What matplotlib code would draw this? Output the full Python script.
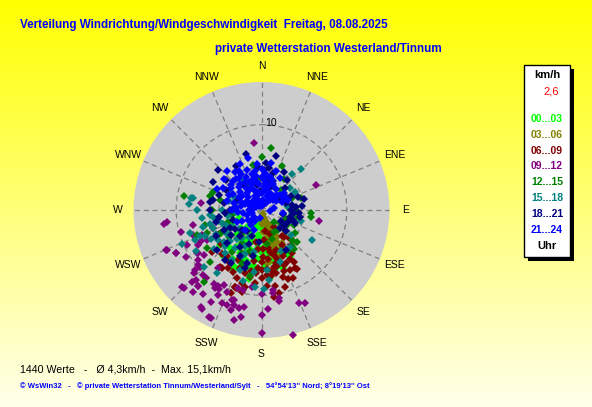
import matplotlib
matplotlib.use('Agg')
import matplotlib.pyplot as plt
from matplotlib.patches import Rectangle
import numpy as np

W, H = 592, 407
plt.rcParams['font.family'] = ['Liberation Sans', 'DejaVu Sans']

TITLE = 'Verteilung Windrichtung/Windgeschwindigkeit  Freitag, 08.08.2025'
SUBTITLE = 'private Wetterstation Westerland/Tinnum'
INFO = '1440 Werte   -   Ø 4,3km/h  -  Max. 15,1km/h'
FOOTER = "© WsWin32   -   © private Wetterstation Tinnum/Westerland/Sylt   -   54°54'13'' Nord; 8°19'13'' Ost"

DIR_LABELS = ['N', 'NNE', 'NE', 'ENE', 'E', 'ESE', 'SE', 'SSE',
              'S', 'SSW', 'SW', 'WSW', 'W', 'WNW', 'NW', 'NNW']
R_MAX = 15
R_RINGS = [5, 10]
CURRENT = '2,6'

HOURS = ['00...03', '03...06', '06...09', '09...12', '12...15', '15...18', '18...21', '21...24']
COLORS = ['#00ff00', '#808000', '#800000', '#800080', '#008000', '#008080', '#000080', '#0000ff']

# (direction in degrees, speed in km/h), one list per 3-hour block
PTS_00 = [(205, 7.8), (149, 6.4), (189, 5.9), (200, 4.6), (203, 2.5), (207, 5.6), (198, 6.2), (173, 4.7),
          (165, 6.9), (195, 3.8), (236, 4.9), (212, 5.1), (190, 5.4), (182, 5.9), (197, 6.1), (173, 8.0),
          (148, 6.3), (205, 7.4), (210, 6.6), (220, 5.8), (185, 3.2), (192, 2.0), (178, 3.5), (170, 5.3),
          (160, 5.6), (215, 4.2), (225, 4.0), (230, 3.2), (240, 5.5), (200, 7.0), (186, 7.2), (176, 6.6),
          (155, 5.0), (210, 3.0), (195, 1.5), (220, 2.6), (245, 3.8), (250, 2.8), (165, 4.0), (180, 2.2),
          (205, 4.0), (215, 6.9), (190, 8.2), (160, 7.2), (230, 6.3), (200, 5.2), (185, 4.4), (206, 7.4),
          (188, 6.6), (150, 6.1), (195, 4.8), (200, 3.4), (210, 4.6), (190, 6.8), (180, 5.0), (175, 4.2),
          (185, 5.6), (195, 7.0), (205, 6.0), (215, 5.3), (220, 7.0), (170, 6.1), (165, 5.2), (160, 4.6),
          (208, 3.8), (200, 2.0), (188, 3.0)]
PTS_03 = [(160, 0.5), (162, 1.0), (158, 1.5), (165, 2.0), (160, 2.5), (163, 3.0), (157, 3.5), (168, 3.8),
          (155, 4.2), (160, 4.6), (150, 5.0), (165, 5.4), (172, 6.1), (174, 6.3), (170, 1.2), (150, 2.2),
          (145, 3.0), (175, 2.6), (155, 1.8), (165, 4.4), (140, 4.0), (150, 3.6), (5, 0.6), (20, 0.8),
          (340, 0.7), (180, 1.6), (170, 3.3), (158, 5.8), (148, 4.6), (162, 2.8), (155, 3.2), (163, 0.8),
          (160, 1.3), (165, 1.7), (158, 2.0), (162, 2.3), (167, 2.8), (160, 3.3), (165, 3.6), (158, 4.0),
          (162, 4.9), (155, 5.2), (168, 4.8)]
PTS_06 = [(150, 7.9), (159, 8.6), (142, 3.9), (140, 4.1), (168, 6.8), (167, 7.6), (175, 6.9), (180, 8.0),
          (183, 6.8), (217, 6.8), (216, 8.2), (198, 9.6), (192, 9.2), (149, 8.0), (193, 9.9), (199, 9.5),
          (205, 8.0), (210, 7.8), (200, 8.5), (160, 5.0), (155, 6.0), (165, 5.5), (170, 4.5), (175, 3.5),
          (150, 4.8), (145, 6.2), (158, 7.0), (162, 8.2), (172, 7.8), (178, 5.5), (185, 4.6), (188, 6.0),
          (190, 7.2), (195, 5.2), (170, 2.5), (160, 3.0), (152, 5.6), (140, 5.4), (135, 4.6), (148, 7.2),
          (155, 7.8), (165, 6.4), (185, 8.6), (176, 8.9), (195, 7.6), (205, 6.5), (212, 7.2), (222, 7.0),
          (230, 6.2), (240, 5.7), (250, 6.0), (145, 2.5), (130, 3.5), (170, 9.1), (163, 9.4), (200, 10.3),
          (155, 8.8), (180, 6.1), (168, 5.0), (190, 3.8), (172, 10.3), (168, 10.0), (230, 7.6), (214, 8.2),
          (199, 9.5), (165, 6.8), (170, 7.2), (175, 7.6), (160, 7.6), (155, 6.8), (150, 6.6), (180, 7.0),
          (185, 7.4), (172, 5.8), (162, 6.0), (178, 4.6), (190, 8.0), (200, 7.2), (195, 8.8)]
PTS_09 = [(354, 7.9), (263, 11.2), (262, 11.5), (247, 12.0), (243, 11.2), (226, 13.0), (212, 13.4), (206, 14.0),
          (191, 12.8), (180, 14.4), (166, 15.1), (180, 12.3), (176, 11.6), (158, 11.7), (155, 12.0), (101, 6.9),
          (65, 7.0), (277, 7.1), (169, 10.5), (169, 10.9), (190, 11.5), (193, 11.8), (196, 11.6), (200, 11.9),
          (197, 11.0), (210, 10.3), (213, 10.3), (219, 10.3), (220, 11.6), (223, 11.2), (227, 10.8), (227, 9.8),
          (236, 9.0), (232, 8.6), (241, 8.5), (247, 7.6), (241, 7.3), (208, 10.5), (207, 9.8), (197, 9.5),
          (193, 9.6), (187, 9.1), (180, 9.8), (172, 9.5), (172, 9.8), (247, 12.1), (243, 11.2), (225, 12.9),
          (236, 9.1), (229, 9.8), (222, 10.2), (220, 11.6), (211, 10.6), (209, 12.3), (211, 13.5), (205, 14.0),
          (207, 11.2), (203, 11.9), (203, 10.4), (197, 12.3), (198, 11.1), (194, 13.3), (217, 8.5), (243, 7.9),
          (232, 9.5), (228, 10.5), (224, 11.8), (220, 12.5), (215, 12.0), (238, 10.5), (245, 9.6), (250, 8.6),
          (255, 9.8), (258, 8.2)]
PTS_12 = [(9, 7.3), (349, 5.4), (25, 5.7), (354, 3.5), (332, 3.2), (73, 4.8), (68, 3.9), (93, 5.8),
          (98, 5.8), (280, 9.2), (290, 6.0), (270, 5.8), (284, 5.0), (132, 5.6), (140, 5.5), (142, 5.7),
          (219, 10.8), (140, 6.0), (145, 5.7), (110, 3.0), (120, 3.4), (125, 2.6), (130, 3.8), (135, 2.0),
          (150, 3.0), (100, 2.6), (105, 3.6), (115, 4.2), (60, 2.8), (45, 3.3), (85, 3.2), (90, 4.0),
          (255, 6.8), (249, 8.1), (247, 7.0), (285, 6.3), (240, 5.5), (230, 5.0), (250, 4.2), (260, 3.5),
          (220, 3.6), (210, 4.5), (200, 6.6), (190, 7.8), (235, 7.8), (225, 8.6), (15, 4.0), (35, 4.5),
          (0, 6.2), (125, 4.8), (135, 5.0), (115, 3.2), (140, 3.0), (160, 3.6), (170, 4.0), (205, 5.5),
          (195, 5.0), (215, 6.0), (100, 4.4)]
PTS_15 = [(44, 6.7), (52, 4.2), (275, 8.5), (280, 8.4), (270, 7.6), (247, 10.1), (247, 7.8), (264, 6.1),
          (254, 7.1), (246, 8.5), (121, 6.9), (96, 3.6), (142, 5.5), (174, 8.2), (187, 7.3), (203, 5.9),
          (280, 8.2), (250, 6.0), (240, 6.8), (230, 7.2), (225, 6.0), (235, 5.0), (245, 4.5), (255, 5.2),
          (260, 4.0), (265, 3.0), (270, 4.6), (285, 4.0), (295, 3.5), (300, 4.5), (220, 4.5), (215, 5.5),
          (210, 6.8), (200, 7.5), (195, 8.6), (185, 9.0), (178, 9.3), (175, 7.0), (190, 5.0), (205, 3.5),
          (230, 3.5), (110, 4.0), (105, 4.8), (80, 3.0), (130, 4.5), (155, 5.3), (160, 6.5), (215, 9.0),
          (225, 9.5), (238, 9.0), (242, 6.0), (252, 8.8), (262, 7.0), (10, 3.0), (330, 4.0), (40, 5.5),
          (62, 4.4), (240, 4.0), (250, 4.8), (235, 6.2), (225, 5.2), (215, 4.0), (205, 4.6), (200, 5.5),
          (195, 6.5), (245, 7.3), (255, 6.2), (260, 5.6), (220, 6.6), (230, 5.8)]
PTS_18 = [(4, 4.7), (18, 4.5), (21, 3.7), (20, 2.9), (52, 2.5), (60, 2.6), (47, 3.7), (80, 3.6),
          (90, 3.5), (103, 3.4), (112, 4.2), (117, 3.3), (130, 3.8), (148, 5.5), (107, 3.9), (289, 5.3),
          (282, 5.8), (265, 4.3), (270, 3.7), (277, 3.1), (235, 3.8), (242, 5.0), (226, 5.6), (228, 7.0),
          (216, 7.2), (210, 7.2), (196, 7.1), (313, 6.9), (279, 6.1), (340, 3.5), (325, 3.6), (23, 3.0),
          (5, 5.5), (355, 5.0), (30, 5.2), (40, 4.6), (65, 3.8), (70, 4.5), (95, 4.4), (100, 2.5),
          (120, 2.6), (135, 3.0), (250, 3.5), (255, 5.5), (240, 6.2), (220, 4.0), (210, 5.0), (200, 4.2),
          (190, 5.5), (205, 6.0), (215, 3.0), (300, 4.8), (310, 5.5), (330, 6.0), (345, 6.8), (15, 6.6),
          (355, 2.2), (290, 3.0), (75, 5.2), (85, 4.8), (350, 3.0), (15, 3.6), (10, 5.0), (60, 3.2),
          (75, 3.0), (85, 4.0), (95, 3.8), (110, 3.5), (125, 3.2), (100, 4.6), (280, 4.5), (260, 5.0),
          (270, 6.0), (230, 4.6), (225, 3.3), (240, 4.3), (200, 3.3), (185, 3.8), (195, 6.4), (300, 6.5)]
PTS_21 = [(350, 1.0), (10, 1.2), (330, 1.5), (0, 2.0), (20, 1.8), (340, 2.5), (315, 2.2), (355, 3.0),
          (15, 2.8), (325, 3.2), (300, 2.0), (345, 3.8), (5, 3.5), (335, 4.3), (320, 4.0), (350, 4.6),
          (310, 3.3), (30, 2.2), (40, 1.5), (290, 1.6), (280, 2.4), (300, 3.0), (340, 5.0), (325, 5.4),
          (315, 4.8), (5, 4.4), (355, 5.4), (330, 2.8), (345, 1.8), (0, 1.0), (25, 3.3), (35, 3.0),
          (45, 2.5), (60, 2.0), (270, 1.5), (260, 2.2), (285, 3.3), (305, 4.4), (318, 6.1), (321, 4.7),
          (343, 3.3), (8, 4.1), (55, 2.9), (52, 3.3), (30, 4.3), (20, 4.9), (12, 5.6), (335, 5.9),
          (345, 6.3), (300, 5.2), (295, 4.2), (310, 5.7), (230, 1.2), (210, 1.5), (250, 1.8), (200, 2.5),
          (240, 2.6), (220, 3.0), (190, 1.0), (275, 3.0), (290, 2.6), (330, 3.8), (350, 4.0), (0, 4.8),
          (15, 4.0), (340, 1.2), (320, 1.0), (65, 3.2), (70, 2.6), (80, 1.5), (100, 1.0), (51, 2.8),
          (98, 2.5), (69, 3.3), (355, 0.5), (20, 0.6), (300, 0.8), (330, 0.6), (10, 2.4), (350, 2.2),
          (335, 1.8), (320, 2.6), (305, 2.8), (310, 1.4), (290, 2.0), (280, 1.0), (340, 3.2), (325, 4.6),
          (335, 3.6), (5, 2.7), (25, 2.2), (350, 3.4), (360, 3.9), (315, 3.8), (300, 3.8), (310, 4.6),
          (330, 4.9), (345, 4.4), (10, 3.2), (20, 3.7), (40, 2.2), (50, 1.8), (35, 1.0), (300, 1.3),
          (265, 2.8), (255, 1.2), (235, 2.0), (245, 3.2), (215, 2.2), (225, 1.8), (270, 3.5), (285, 4.2),
          (295, 5.8), (330, 5.3)]
POINTS = [PTS_00, PTS_03, PTS_06, PTS_09, PTS_12, PTS_15, PTS_18, PTS_21]


# ----------------------------------------------------------------------------------------------------
def fx(x):
    return x / W


def fy(y):
    return 1 - y / H


# ----------------------------------------------------------------------------------------------------
def plot_wind_scatter():

    fig = plt.figure(figsize=(W / 100, H / 100), dpi=100)

    bg = fig.add_axes([0, 0, 1, 1])
    grad = np.linspace(0, 1, 256)
    img = np.dstack([np.ones_like(grad), np.ones_like(grad), 0.92 * grad]).reshape(256, 1, 3)
    bg.imshow(img, aspect='auto', extent=[0, 1, 0, 1])
    bg.set_axis_off()

    cx, cy, rad = 261.5, 210, 128
    ax = fig.add_axes([fx(cx - rad), fy(cy + rad), 2 * rad / W, 2 * rad / H], projection='polar')
    ax.set_facecolor('#cdcdcd')
    ax.set_theta_zero_location('N')
    ax.set_theta_direction(-1)
    ax.set_ylim(0, R_MAX)
    ax.spines['polar'].set_visible(False)
    ax.set_axisbelow(True)
    ax.set_xticks(np.deg2rad(np.arange(0, 360, 22.5)))
    ax.set_xticklabels([])
    ax.set_yticks(R_RINGS)
    ax.set_yticklabels([])
    ax.grid(True, ls=(0, (4, 3)), color='#808080', lw=0.9)
    ax.tick_params(length=0)

    for i, lab in enumerate(DIR_LABELS):
        ax.text(np.deg2rad(i * 22.5), R_MAX * 144 / 128, lab, ha='center', va='center',
                fontsize=7.5, clip_on=False)
    ax.annotate('10', (0, 10), xytext=(4, 2), textcoords='offset pixels',
                ha='left', va='center', fontsize=7.5)

    for pts, col in zip(POINTS, COLORS):
        d = np.deg2rad([p[0] for p in pts])
        s = [p[1] for p in pts]
        ax.plot(d, s, 'D', color=col, ms=3.6, mew=0, ls='none', clip_on=False)

    fig.text(fx(20), fy(25), TITLE, color='#0000ff', fontsize=8.4, fontweight='bold',
             ha='left', va='center')
    fig.text(fx(215), fy(49), SUBTITLE, color='#0000ff', fontsize=8.4, fontweight='bold',
             ha='left', va='center')
    fig.text(fx(20), fy(369), INFO, color='black', fontsize=7.7, ha='left', va='center')
    fig.text(fx(20), fy(386), FOOTER, color='#0000ff', fontsize=5.5, fontweight='bold',
             ha='left', va='center')

    # legend box with shadow
    bx0, by0, bx1, by1 = 524, 65, 570, 257
    fig.add_artist(Rectangle((fx(bx0 + 4), fy(by1 + 4)), (bx1 - bx0) / W, (by1 - by0) / H,
                             transform=fig.transFigure, facecolor='black', edgecolor='none'))
    fig.add_artist(Rectangle((fx(bx0), fy(by1)), (bx1 - bx0) / W, (by1 - by0) / H,
                             transform=fig.transFigure, facecolor='white', edgecolor='black', lw=1))
    lx = (bx0 + bx1) / 2
    fig.text(fx(lx), fy(75), 'km/h', fontsize=8, fontweight='bold', ha='center', va='center')
    fig.text(fx(lx + 4), fy(91), CURRENT, fontsize=8, color='red', ha='center', va='center')
    for i, (lab, col) in enumerate(zip(HOURS, COLORS)):
        fig.text(fx(lx), fy(119 + i * 15.8), lab, fontsize=7.5, fontweight='bold', color=col,
                 ha='center', va='center')
    fig.text(fx(lx), fy(246), 'Uhr', fontsize=8, fontweight='bold', ha='center', va='center')

    fig.savefig('out.png', dpi=100)


# ----------------------------------------------------------------------------------------------------
if __name__ == '__main__':

    plot_wind_scatter()
